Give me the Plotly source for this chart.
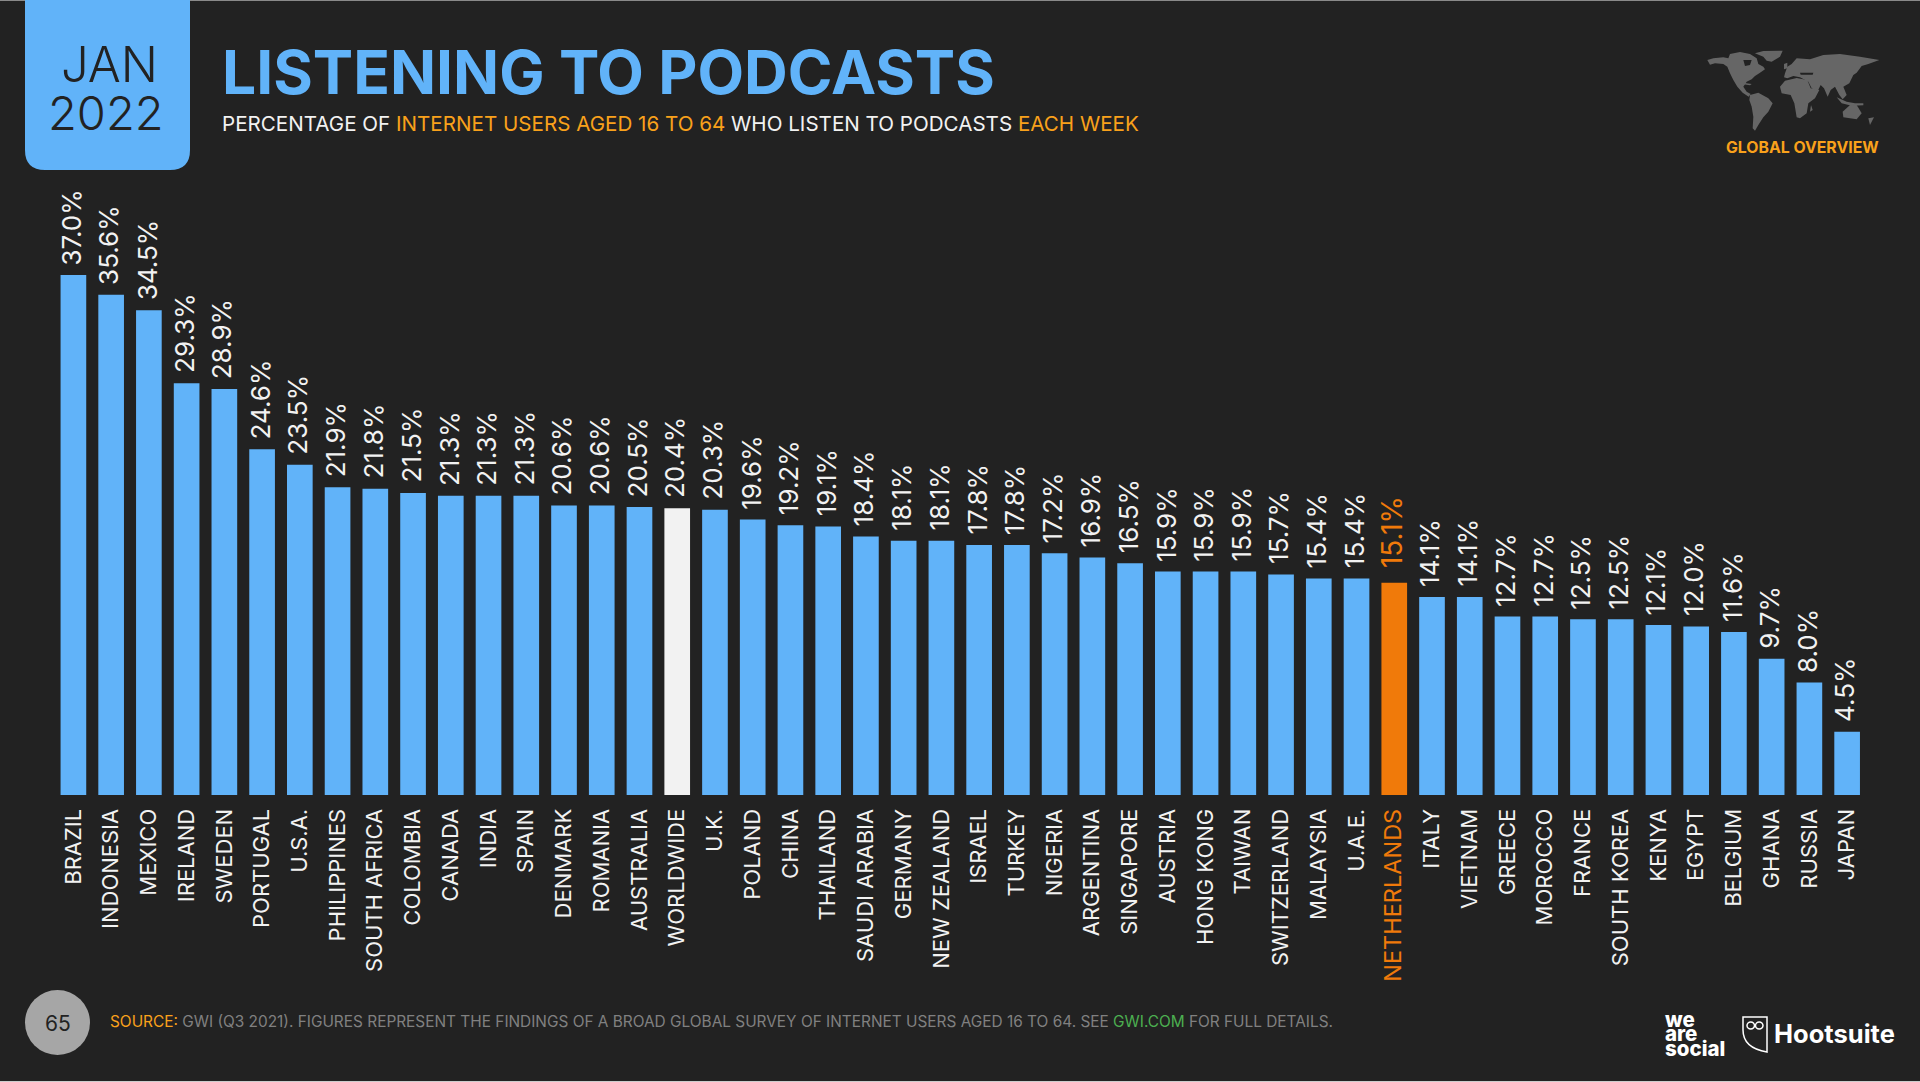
import plotly.graph_objects as go

W, H = 1920, 1082
FONT = "Inter"

BG = "#222222"
BLUE = "#61B3F9"
ORANGE_TXT = "#F9A11B"
ORANGE_BAR = "#F07A0A"
HIGHLIGHT_WORLD = "WORLDWIDE"
HIGHLIGHT_LOCAL = "NETHERLANDS"

countries = [
    "BRAZIL", "INDONESIA", "MEXICO", "IRELAND", "SWEDEN", "PORTUGAL", "U.S.A.", "PHILIPPINES",
    "SOUTH AFRICA", "COLOMBIA", "CANADA", "INDIA", "SPAIN", "DENMARK", "ROMANIA", "AUSTRALIA",
    "WORLDWIDE", "U.K.", "POLAND", "CHINA", "THAILAND", "SAUDI ARABIA", "GERMANY", "NEW ZEALAND",
    "ISRAEL", "TURKEY", "NIGERIA", "ARGENTINA", "SINGAPORE", "AUSTRIA", "HONG KONG", "TAIWAN",
    "SWITZERLAND", "MALAYSIA", "U.A.E.", "NETHERLANDS", "ITALY", "VIETNAM", "GREECE", "MOROCCO",
    "FRANCE", "SOUTH KOREA", "KENYA", "EGYPT", "BELGIUM", "GHANA", "RUSSIA", "JAPAN",
]
values = [
    37.0, 35.6, 34.5, 29.3, 28.9, 24.6, 23.5, 21.9,
    21.8, 21.5, 21.3, 21.3, 21.3, 20.6, 20.6, 20.5,
    20.4, 20.3, 19.6, 19.2, 19.1, 18.4, 18.1, 18.1,
    17.8, 17.8, 17.2, 16.9, 16.5, 15.9, 15.9, 15.9,
    15.7, 15.4, 15.4, 15.1, 14.1, 14.1, 12.7, 12.7,
    12.5, 12.5, 12.1, 12.0, 11.6, 9.7, 8.0, 4.5,
]

# rough outline of the continents for the little map, in pixels of a 570x300 box
map_shapes = [
    [(22,60),(40,55),(70,52),(85,55),(90,42),(120,36),(150,42),(170,55),(175,72),(190,80),(195,88),(180,98),
     (165,108),(155,118),(140,125),(130,140),(140,155),(152,162),(146,170),(128,158),(112,140),(100,120),
     (90,100),(82,80),(70,72),(45,70),(30,74)],
    [(165,40),(190,33),(248,32),(240,50),(215,65),(200,62),(190,50)],
    [(150,165),(175,158),(205,175),(218,190),(205,215),(190,232),(175,255),(165,272),(158,265),(160,230),(155,200),(148,180)],
    [(255,122),(290,114),(322,120),(332,145),(358,150),(345,175),(325,190),(320,220),(300,235),(290,232),(283,190),
     (272,165),(245,160),(240,140)],
    [(255,100),(262,80),(275,72),(290,55),(330,58),(370,45),(420,42),(480,50),(538,60),(505,72),(485,78),(470,98),
     (460,105),(448,130),(430,140),(440,165),(428,178),(418,165),(405,140),(392,150),(383,170),(372,145),(362,135),
     (352,155),(335,145),(325,125),(300,112),(280,108),(262,115),(252,112)],
    [(428,215),(450,195),(470,195),(485,220),(470,238),(430,232)],
    [(333,195),(338,210),(330,215)],
    [(410,172),(440,185),(465,190),(490,190),(490,196),(455,197),(425,190)],
    [(505,235),(522,232),(510,255)],
    [(252,72),(262,68),(262,85),(252,88)],
    [(130,128),(155,132),(150,136),(130,133)],
]
map_holes = [
    [(130,60),(155,60),(150,75),(135,78)],
    [(300,98),(340,98),(338,104),(302,104)],
]


def px(x):
    return x / W


def py(y):
    return 1 - y / H


def path(points):
    return "M " + " L ".join(f"{px(x):.5f},{py(y):.5f}" for x, y in points) + " Z"


def label(text, x, y, size, color, anchor="left", weight=None):
    font = dict(family=FONT, size=size, color=color)
    if weight:
        font["weight"] = weight
    return dict(
        text=text, x=px(x), y=py(y), xref="paper", yref="paper", showarrow=False,
        xanchor=anchor, yanchor="middle", font=font, align=anchor,
    )


colors = []
for c in countries:
    if c == HIGHLIGHT_WORLD:
        colors.append("#F2F2F2")
    elif c == HIGHLIGHT_LOCAL:
        colors.append(ORANGE_BAR)
    else:
        colors.append(BLUE)

ticktext = [
    f'<span style="color:{ORANGE_BAR};font-size:23.5px">{c}</span>' if c == HIGHLIGHT_LOCAL else c
    for c in countries
]

fig = go.Figure(go.Bar(x=countries, y=values, marker=dict(color=colors, line=dict(width=0)), hoverinfo="x+y"))

annotations = []
for c, v in zip(countries, values):
    local = c == HIGHLIGHT_LOCAL
    annotations.append(dict(
        text=f"{v:.1f}%", x=c, y=v, xref="x", yref="y", showarrow=False, textangle=-90,
        xanchor="center", yanchor="bottom", xshift=-2, yshift=13 if local else 8,
        font=dict(family=FONT, size=28 if local else 26, color=ORANGE_BAR if local else "#F2F2F2"),
    ))

annotations += [
    label("JAN", 109, 65, 49, BG, "center", 300),
    label("2022", 106, 113, 47, BG, "center", 300),
    label("LISTENING TO PODCASTS", 220, 72, 60.5, BLUE, "left", 700),
    label(
        f'PERCENTAGE OF <span style="color:{ORANGE_TXT}">INTERNET USERS AGED 16 TO 64</span> WHO LISTEN TO PODCASTS '
        f'<span style="color:{ORANGE_TXT}">EACH WEEK</span>',
        220, 123, 20.6, "#F2F2F2",
    ),
    label("GLOBAL OVERVIEW", 1881, 148, 15.8, ORANGE_TXT, "right", 700),
    label("65", 58, 1023, 21, BG, "center"),
    label(
        f'<span style="color:{ORANGE_TXT}">SOURCE:</span> GWI (Q3 2021). FIGURES REPRESENT THE FINDINGS OF A BROAD GLOBAL '
        f'SURVEY OF INTERNET USERS AGED 16 TO 64. SEE <span style="color:#4CAF50">GWI.COM</span> FOR FULL DETAILS.',
        108, 1021, 15.4, "#808080",
    ),
    label("we", 1663, 1019, 20.5, "#FFFFFF", "left", 800),
    label("are", 1663, 1033, 20.5, "#FFFFFF", "left", 800),
    label("social", 1663, 1048, 20.5, "#FFFFFF", "left", 800),
    label("Hootsuite", 1772, 1033, 25.5, "#FFFFFF", "left", 700),
]

shapes = [
    # thin light edges of the slide
    dict(type="rect", xref="paper", yref="paper", fillcolor="#8A8A8A", line=dict(width=0),
         x0=0, x1=1, y0=py(1), y1=1),
    dict(type="rect", xref="paper", yref="paper", fillcolor="#CCCCCC", line=dict(width=0),
         x0=0, x1=1, y0=0, y1=py(1081)),
    # date tab
    dict(type="path", xref="paper", yref="paper", fillcolor=BLUE, line=dict(width=0),
         path=f"M {px(25)},{py(0)} L {px(190)},{py(0)} L {px(190)},{py(150)} "
              f"Q {px(190)},{py(170)} {px(170)},{py(170)} L {px(45)},{py(170)} "
              f"Q {px(25)},{py(170)} {px(25)},{py(150)} Z"),
    # page number
    dict(type="circle", xref="paper", yref="paper", fillcolor="#A6A6A6", line=dict(width=0),
         x0=px(25), x1=px(90), y0=py(990), y1=py(1055)),
    # owl
    dict(type="path", xref="paper", yref="paper", line=dict(color="#FFFFFF", width=1.5),
         path=f"M {px(1743)},{py(1017)} L {px(1767)},{py(1017)} L {px(1767)},{py(1052)} "
              f"Q {px(1743)},{py(1048)} {px(1743)},{py(1030)} Z"),
    dict(type="circle", xref="paper", yref="paper", line=dict(color="#FFFFFF", width=1.5),
         x0=px(1747), x1=px(1754.5), y0=py(1022), y1=py(1029)),
    dict(type="circle", xref="paper", yref="paper", line=dict(color="#FFFFFF", width=1.5),
         x0=px(1755.5), x1=px(1763), y0=py(1022), y1=py(1029)),
    dict(type="circle", xref="paper", yref="paper", fillcolor="#999999", line=dict(width=0),
         x0=px(1889), x1=px(1893), y0=py(1029), y1=py(1033)),
]
for outline in map_shapes:
    pts = [(1700 + x / 3, 40 + y / 3) for x, y in outline]
    shapes.append(dict(type="path", xref="paper", yref="paper", fillcolor="#666666", line=dict(width=0), path=path(pts)))
for outline in map_holes:
    pts = [(1700 + x / 3, 40 + y / 3) for x, y in outline]
    shapes.append(dict(type="path", xref="paper", yref="paper", fillcolor=BG, line=dict(width=0), path=path(pts)))

fig.update_layout(
    width=W,
    height=H,
    margin=dict(l=0, r=0, t=0, b=0),
    paper_bgcolor=BG,
    plot_bgcolor=BG,
    bargap=0.32,
    showlegend=False,
    font=dict(family=FONT),
    annotations=annotations,
    shapes=shapes,
    xaxis=dict(
        domain=[px(53.9), px(1866)],
        type="category",
        tickmode="array",
        tickvals=countries,
        ticktext=ticktext,
        tickangle=-90,
        tickfont=dict(family=FONT, size=22, color="#F2F2F2"),
        ticks="outside",
        ticklen=4,
        tickcolor="rgba(0,0,0,0)",
        showgrid=False,
        showline=False,
        zeroline=False,
    ),
    yaxis=dict(
        domain=[py(795), py(162.7)],
        range=[0, 45],
        visible=False,
    ),
)

fig.write_html("out.html", config=dict(displayModeBar=False), post_script="document.body.style.margin='0';")
